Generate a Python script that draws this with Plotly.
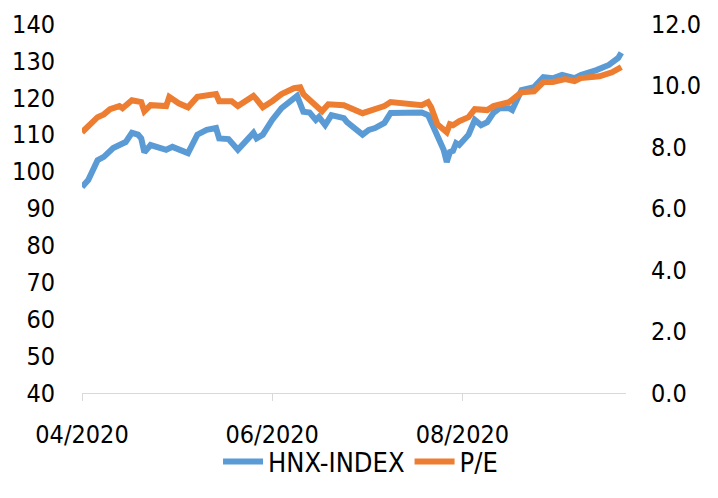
import plotly.graph_objects as go

hnx_dates = [
    "2020-04-01", "2020-04-03", "2020-04-06", "2020-04-08", "2020-04-11", "2020-04-13",
    "2020-04-15", "2020-04-17", "2020-04-19", "2020-04-20", "2020-04-21", "2020-04-23",
    "2020-04-28", "2020-04-30", "2020-05-05", "2020-05-08", "2020-05-11", "2020-05-14",
    "2020-05-15", "2020-05-18", "2020-05-21", "2020-05-26", "2020-05-27", "2020-05-29",
    "2020-06-01", "2020-06-04", "2020-06-08", "2020-06-09", "2020-06-11", "2020-06-13",
    "2020-06-15", "2020-06-16", "2020-06-18", "2020-06-20", "2020-06-24", "2020-06-25",
    "2020-06-30", "2020-07-02", "2020-07-04", "2020-07-07", "2020-07-09", "2020-07-13",
    "2020-07-15", "2020-07-16", "2020-07-19", "2020-07-21", "2020-07-23", "2020-07-26",
    "2020-07-27", "2020-07-28", "2020-07-29", "2020-07-30", "2020-07-31", "2020-08-03",
    "2020-08-05", "2020-08-07", "2020-08-09", "2020-08-11", "2020-08-13", "2020-08-16",
    "2020-08-17", "2020-08-20", "2020-08-24", "2020-08-27", "2020-08-30", "2020-09-02",
    "2020-09-06", "2020-09-08", "2020-09-13", "2020-09-17", "2020-09-20", "2020-09-21",
]
hnx_values = [
    95.8, 97.7, 103.1, 104.0, 106.4, 107.2,
    108.0, 110.5, 110.0, 109.0, 105.2, 107.2,
    105.9, 106.7, 105.0, 110.0, 111.3, 111.8,
    109.0, 108.8, 105.9, 110.5, 109.0, 110.0,
    114.0, 117.2, 120.0, 120.5, 116.2, 116.0,
    114.0, 114.8, 112.6, 115.3, 114.5, 113.4,
    110.0, 111.3, 111.8, 113.2, 115.9, 115.9,
    116.0, 115.7, 116.0, 115.3, 111.3, 105.9,
    102.6, 105.3, 105.6, 107.7, 107.2, 110.0,
    114.0, 112.6, 113.4, 115.9, 117.2, 117.2,
    116.7, 122.1, 122.9, 125.6, 125.3, 126.2,
    125.3, 126.2, 127.5, 128.9, 130.8, 132.2,
]

pe_dates = [
    "2020-04-01", "2020-04-03", "2020-04-06", "2020-04-08", "2020-04-10", "2020-04-13",
    "2020-04-14", "2020-04-17", "2020-04-20", "2020-04-21", "2020-04-23", "2020-04-28",
    "2020-04-29", "2020-05-02", "2020-05-05", "2020-05-08", "2020-05-11", "2020-05-14",
    "2020-05-15", "2020-05-19", "2020-05-21", "2020-05-26", "2020-05-27", "2020-05-29",
    "2020-06-01", "2020-06-04", "2020-06-08", "2020-06-10", "2020-06-11", "2020-06-13",
    "2020-06-15", "2020-06-17", "2020-06-19", "2020-06-24", "2020-06-30", "2020-07-02",
    "2020-07-07", "2020-07-09", "2020-07-14", "2020-07-16", "2020-07-19", "2020-07-21",
    "2020-07-22", "2020-07-24", "2020-07-27", "2020-07-28", "2020-07-29", "2020-07-31",
    "2020-08-03", "2020-08-05", "2020-08-09", "2020-08-11", "2020-08-13", "2020-08-16",
    "2020-08-20", "2020-08-24", "2020-08-27", "2020-08-30", "2020-09-03", "2020-09-06",
    "2020-09-08", "2020-09-14", "2020-09-18", "2020-09-21",
]
pe_values = [
    8.48, 8.67, 8.97, 9.06, 9.23, 9.33,
    9.26, 9.52, 9.46, 9.16, 9.36, 9.33,
    9.63, 9.42, 9.29, 9.63, 9.68, 9.72,
    9.49, 9.49, 9.33, 9.66, 9.55, 9.29,
    9.49, 9.72, 9.91, 9.94, 9.72, 9.55,
    9.39, 9.16, 9.39, 9.36, 9.10, 9.16,
    9.33, 9.46, 9.42, 9.36, 9.36, 9.46,
    9.29, 8.74, 8.48, 8.74, 8.71, 8.84,
    8.97, 9.23, 9.20, 9.33, 9.39, 9.46,
    9.78, 9.81, 10.11, 10.11, 10.21, 10.14,
    10.24, 10.30, 10.43, 10.60,
]

left_ticks = [40, 50, 60, 70, 80, 90, 100, 110, 120, 130, 140]
right_ticks = [0, 2, 4, 6, 8, 10, 12]
right_labels = ["0.0", "2.0", "4.0", "6.0", "8.0", "10.0", "12.0"]
x_ticks = ["2020-04-01", "2020-06-01", "2020-08-01"]
x_labels = ["04/2020", "06/2020", "08/2020"]

FONT = "DejaVu Sans Condensed, DejaVu Sans, sans-serif"

fig = go.Figure()
fig.add_trace(go.Scatter(
    x=hnx_dates, y=hnx_values, name="HNX-INDEX", mode="lines",
    line=dict(color="#5B9BD5", width=6), yaxis="y",
))
fig.add_trace(go.Scatter(
    x=pe_dates, y=pe_values, name="P/E", mode="lines",
    line=dict(color="#ED7D31", width=6), yaxis="y2",
))

fig.update_layout(
    width=718, height=498,
    margin=dict(l=82, r=92, t=24, b=105, autoexpand=False),
    paper_bgcolor="white", plot_bgcolor="white",
    font=dict(family=FONT, size=25, color="#000000"),
    showlegend=True,
    legend=dict(orientation="h", x=0.512, xanchor="center", y=-0.187, yanchor="middle",
                font=dict(family=FONT, size=27), itemwidth=40,
                bgcolor="rgba(0,0,0,0)", traceorder="normal"),
    xaxis=dict(
        type="date", range=["2020-04-01", "2020-09-22 12:00"],
        tickvals=x_ticks, ticktext=x_labels,
        showgrid=False, zeroline=False,
        showline=True, linecolor="#D9D9D9", linewidth=1.3,
        ticks="outside", ticklen=7, tickcolor="#D9D9D9", tickwidth=1.3,
        ticklabelstandoff=12, automargin=False,
    ),
    yaxis=dict(
        range=[40, 140], tickvals=left_ticks,
        showgrid=False, zeroline=False, showline=False,
        ticks="", ticklabelstandoff=26, automargin=False,
    ),
    yaxis2=dict(
        range=[0, 12], tickvals=right_ticks, ticktext=right_labels,
        overlaying="y", side="right",
        showgrid=False, zeroline=False, showline=False,
        ticks="", ticklabelstandoff=24, automargin=False,
    ),
)

fig.write_html("out.html", config={"displayModeBar": False},
               post_script="document.body.style.margin='0';document.body.style.padding='0';")
